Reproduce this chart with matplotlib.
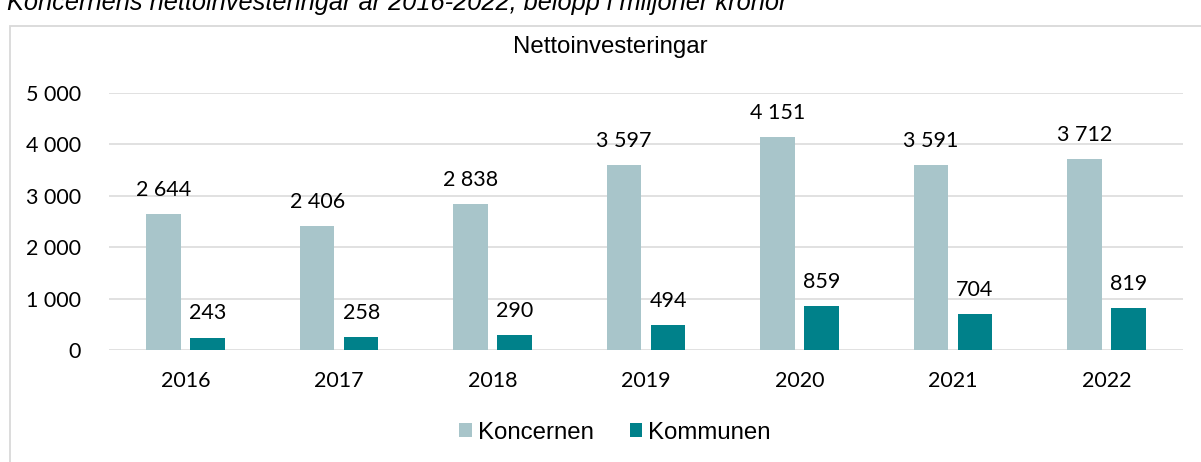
import matplotlib
matplotlib.use("Agg")
import matplotlib.pyplot as plt
from matplotlib.patches import Rectangle
import numpy as np

years = ["2016", "2017", "2018", "2019", "2020", "2021", "2022"]
koncernen = [2644, 2406, 2838, 3597, 4151, 3591, 3712]
kommunen = [243, 258, 290, 494, 859, 704, 819]
yticks = [0, 1000, 2000, 3000, 4000, 5000]

title = "Nettoinvesteringar"
caption = "Koncernens nettoinvesteringar år 2016-2022, belopp i miljoner kronor"
series_names = ["Koncernen", "Kommunen"]
colors = ["#A8C5CA", "#00818A"]

W, H = 1201, 462
fig = plt.figure(figsize=(W / 100, H / 100), dpi=100)

def fx(px):
    return px / W

def fy(py):
    return 1 - py / H

# outer border of chart area
fig.patches.append(Rectangle((fx(10), fy(470)), fx(1200), fy(26) - fy(470),
                             transform=fig.transFigure, fill=False,
                             edgecolor="#D9D9D9", linewidth=1.3))

ax = fig.add_axes([fx(109), fy(350), fx(1183) - fx(109), fy(93) - fy(350)])

def fmt(v):
    return f"{v:,}".replace(",", " ")

x = np.arange(len(years))
off = 0.1434
bw = 0.225
b1 = ax.bar(x - off, koncernen, width=bw, color=colors[0], label=series_names[0], zorder=3)
b2 = ax.bar(x + off, kommunen, width=bw, color=colors[1], label=series_names[1], zorder=3)

numfont = dict(family="Lato", size=15.5, color="#000000")
for bars, vals in ((b1, koncernen), (b2, kommunen)):
    for r, v in zip(bars, vals):
        ax.annotate(fmt(v), (r.get_x() + r.get_width() / 2, v),
                    xytext=(0, 13), textcoords="offset points",
                    ha="center", va="baseline", **numfont)

ax.set_xlim(-0.5, len(years) - 0.5)
ax.set_ylim(0, 5000)
ax.set_yticks(yticks)
ax.set_yticklabels([fmt(v) for v in yticks], fontdict=numfont)
ax.set_xticks(x)
ax.set_xticklabels(years, fontdict=numfont)
ax.tick_params(axis="y", length=0, pad=20)
ax.tick_params(axis="x", length=0, pad=15)
ax.grid(axis="y", color="#D9D9D9", linewidth=1.1, zorder=0)
for s in ax.spines.values():
    s.set_visible(False)
ax.set_facecolor("none")

fig.text(fx(610), fy(47), title, ha="center", va="center",
         family="Liberation Sans", fontsize=17.3, color="#000000")

fig.text(fx(7), fy(10), caption, ha="left", va="baseline",
         family="Liberation Sans", style="italic", fontsize=18.3, color="#000000")

leg = fig.legend(handles=[b1, b2], labels=series_names, loc="center",
                 bbox_to_anchor=(fx(615), fy(433)), ncol=2, frameon=False,
                 prop=dict(family="Liberation Sans", size=17.3),
                 handlelength=0.52, handleheight=0.52, handletextpad=0.25,
                 columnspacing=1.5, borderpad=0)

fig.savefig("out.png", dpi=100)
